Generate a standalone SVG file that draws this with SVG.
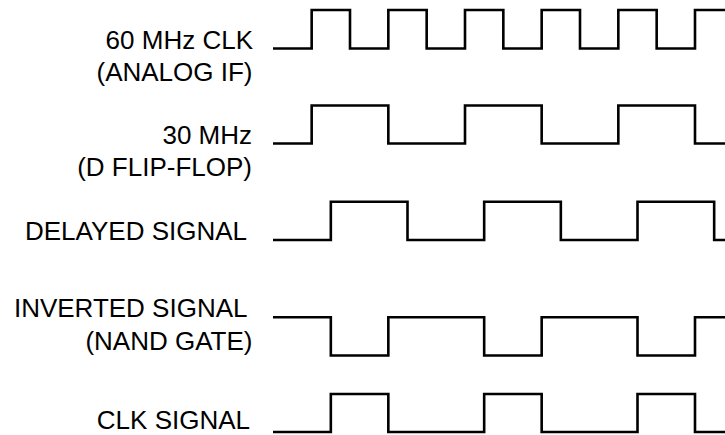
<svg xmlns="http://www.w3.org/2000/svg" width="725" height="435" viewBox="0 0 725 435">
<style>
.lbl{font-family:"Liberation Sans",Arial,Helvetica,sans-serif;font-size:26px;fill:#000;text-anchor:end}
.wave{fill:none;stroke:#000;stroke-width:2.6;stroke-linejoin:miter;stroke-linecap:butt}
</style>
<rect width="725" height="435" fill="#fff"/>
<g id="sig-60mhz">
<text class="lbl" x="253" y="49">60 MHz CLK</text>
<text class="lbl" x="252.5" y="81">(ANALOG IF)</text>
<path class="wave" d="M273 48.5 H311.67 V10 H350 V48.5 H388.33 V10 H426.67 V48.5 H465 V10 H503.33 V48.5 H541.67 V10 H580 V48.5 H618.33 V10 H656.67 V48.5 H695 V10 H725"/>
</g>
<g id="sig-30mhz">
<text class="lbl" x="252" y="144">30 MHz</text>
<text class="lbl" x="252" y="176">(D FLIP-FLOP)</text>
<path class="wave" d="M273 143.5 H311.67 V105.5 H388.33 V143.5 H465 V105.5 H541.67 V143.5 H618.33 V105.5 H695 V143.5 H725"/>
</g>
<g id="sig-delayed">
<text class="lbl" x="247" y="240">DELAYED SIGNAL</text>
<path class="wave" d="M273 240 H330.83 V201.7 H407.5 V240 H484.17 V201.7 H560.83 V240 H637.5 V201.7 H714.17 V240 H725"/>
</g>
<g id="sig-inverted">
<text class="lbl" x="247.5" y="317">INVERTED SIGNAL</text>
<text class="lbl" x="252.5" y="350">(NAND GATE)</text>
<path class="wave" d="M273 317.3 H330.83 V355.5 H388.33 V317.3 H484.17 V355.5 H541.67 V317.3 H637.5 V355.5 H695 V317.3 H725"/>
</g>
<g id="sig-clk">
<text class="lbl" x="250" y="429">CLK SIGNAL</text>
<path class="wave" d="M273 432 H330.83 V394 H388.33 V432 H484.17 V394 H541.67 V432 H637.5 V394 H695 V432 H725"/>
</g>
<g id="connectors"></g>
</svg>
